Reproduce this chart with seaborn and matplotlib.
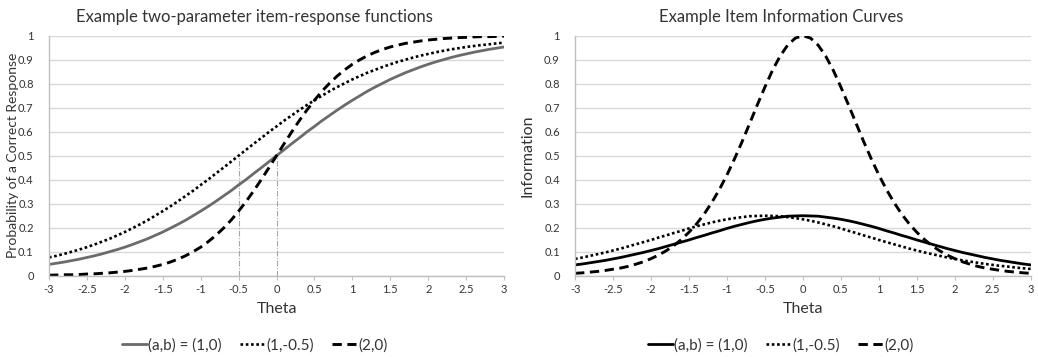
import matplotlib
matplotlib.use("Agg")
import matplotlib.pyplot as plt
import seaborn as sns
import pandas as pd

theta = [-3.0, -2.9, -2.8, -2.7, -2.6, -2.5, -2.4, -2.3, -2.2, -2.1,
         -2.0, -1.9, -1.8, -1.7, -1.6, -1.5, -1.4, -1.3, -1.2, -1.1,
         -1.0, -0.9, -0.8, -0.7, -0.6, -0.5, -0.4, -0.3, -0.2, -0.1,
         0.0, 0.1, 0.2, 0.3, 0.4, 0.5, 0.6, 0.7, 0.8, 0.9,
         1.0, 1.1, 1.2, 1.3, 1.4, 1.5, 1.6, 1.7, 1.8, 1.9,
         2.0, 2.1, 2.2, 2.3, 2.4, 2.5, 2.6, 2.7, 2.8, 2.9, 3.0]

# Item response functions
p_1_0 = [0.047, 0.052, 0.057, 0.063, 0.069, 0.076, 0.083, 0.091, 0.100, 0.109,
         0.119, 0.130, 0.142, 0.154, 0.168, 0.182, 0.198, 0.214, 0.231, 0.250,
         0.269, 0.289, 0.310, 0.332, 0.354, 0.378, 0.401, 0.426, 0.450, 0.475,
         0.500, 0.525, 0.550, 0.574, 0.599, 0.622, 0.646, 0.668, 0.690, 0.711,
         0.731, 0.750, 0.769, 0.786, 0.802, 0.818, 0.832, 0.846, 0.858, 0.870,
         0.881, 0.891, 0.900, 0.909, 0.917, 0.924, 0.931, 0.937, 0.943, 0.948, 0.953]
p_1_m05 = [0.076, 0.083, 0.091, 0.100, 0.109, 0.119, 0.130, 0.142, 0.154, 0.168,
           0.182, 0.198, 0.214, 0.231, 0.250, 0.269, 0.289, 0.310, 0.332, 0.354,
           0.378, 0.401, 0.426, 0.450, 0.475, 0.500, 0.525, 0.550, 0.574, 0.599,
           0.622, 0.646, 0.668, 0.690, 0.711, 0.731, 0.750, 0.769, 0.786, 0.802,
           0.818, 0.832, 0.846, 0.858, 0.870, 0.881, 0.891, 0.900, 0.909, 0.917,
           0.924, 0.931, 0.937, 0.943, 0.948, 0.953, 0.957, 0.961, 0.964, 0.968, 0.971]
p_2_0 = [0.002, 0.003, 0.004, 0.004, 0.005, 0.007, 0.008, 0.010, 0.012, 0.015,
         0.018, 0.022, 0.027, 0.032, 0.039, 0.047, 0.057, 0.069, 0.083, 0.100,
         0.119, 0.142, 0.168, 0.198, 0.231, 0.269, 0.310, 0.354, 0.401, 0.450,
         0.500, 0.550, 0.599, 0.646, 0.690, 0.731, 0.769, 0.802, 0.832, 0.858,
         0.881, 0.900, 0.917, 0.931, 0.943, 0.953, 0.961, 0.968, 0.973, 0.978,
         0.982, 0.985, 0.988, 0.990, 0.992, 0.993, 0.995, 0.996, 0.996, 0.997, 0.998]

# Item information curves
i_1_0 = [0.045, 0.049, 0.054, 0.059, 0.064, 0.070, 0.076, 0.083, 0.090, 0.097,
         0.105, 0.113, 0.122, 0.131, 0.140, 0.149, 0.159, 0.168, 0.178, 0.187,
         0.197, 0.206, 0.214, 0.222, 0.229, 0.235, 0.240, 0.244, 0.248, 0.249,
         0.250, 0.249, 0.248, 0.244, 0.240, 0.235, 0.229, 0.222, 0.214, 0.206,
         0.197, 0.187, 0.178, 0.168, 0.159, 0.149, 0.140, 0.131, 0.122, 0.113,
         0.105, 0.097, 0.090, 0.083, 0.076, 0.070, 0.064, 0.059, 0.054, 0.049, 0.045]
i_1_m05 = [0.070, 0.076, 0.083, 0.090, 0.097, 0.105, 0.113, 0.122, 0.131, 0.140,
           0.149, 0.159, 0.168, 0.178, 0.187, 0.197, 0.206, 0.214, 0.222, 0.229,
           0.235, 0.240, 0.244, 0.248, 0.249, 0.250, 0.249, 0.248, 0.244, 0.240,
           0.235, 0.229, 0.222, 0.214, 0.206, 0.197, 0.187, 0.178, 0.168, 0.159,
           0.149, 0.140, 0.131, 0.122, 0.113, 0.105, 0.097, 0.090, 0.083, 0.076,
           0.070, 0.064, 0.059, 0.054, 0.049, 0.045, 0.041, 0.038, 0.034, 0.031, 0.028]
i_2_0 = [0.010, 0.012, 0.015, 0.018, 0.022, 0.027, 0.032, 0.039, 0.048, 0.058,
         0.071, 0.086, 0.104, 0.125, 0.151, 0.181, 0.216, 0.257, 0.305, 0.359,
         0.420, 0.487, 0.559, 0.635, 0.712, 0.786, 0.856, 0.915, 0.961, 0.990,
         1.000, 0.990, 0.961, 0.915, 0.856, 0.786, 0.712, 0.635, 0.559, 0.487,
         0.420, 0.359, 0.305, 0.257, 0.216, 0.181, 0.151, 0.125, 0.104, 0.086,
         0.071, 0.058, 0.048, 0.039, 0.032, 0.027, 0.022, 0.018, 0.015, 0.012, 0.010]

series_labels = ["(a,b) = (1,0)", "(1,-0.5)", "(2,0)"]
ref_theta = [-0.5, 0.0]
ref_prob = [0.5, 0.5]

x_ticks = [-3, -2.5, -2, -1.5, -1, -0.5, 0, 0.5, 1, 1.5, 2, 2.5, 3]
x_tick_labels = ["-3", "-2.5", "-2", "-1.5", "-1", "-0.5", "0", "0.5", "1", "1.5", "2", "2.5", "3"]
y_ticks = [0, 0.1, 0.2, 0.3, 0.4, 0.5, 0.6, 0.7, 0.8, 0.9, 1]
y_tick_labels = ["0", "0.1", "0.2", "0.3", "0.4", "0.5", "0.6", "0.7", "0.8", "0.9", "1"]

sns.set_theme(style="white")
plt.rcParams["font.family"] = ["Lato", "DejaVu Sans"]

TEXT = "#333333"
fig = plt.figure(figsize=(10.38, 3.57), dpi=100)
ax1 = fig.add_axes([0.0472, 0.2277, 0.4384, 0.6723])
ax2 = fig.add_axes([0.5540, 0.2277, 0.4390, 0.6723])

styles = [
    dict(linestyle="-", linewidth=2.0),
    dict(linestyle=(0, (1.0, 1.0)), linewidth=1.9),
    dict(linestyle=(0, (3.2, 1.9)), linewidth=2.1),
]

def draw(ax, ys, first_color):
    colors = [first_color, "black", "black"]
    handles = []
    for y, lab, st, c in zip(ys, series_labels, styles, colors):
        df = pd.DataFrame({"theta": theta, "val": y})
        sns.lineplot(data=df, x="theta", y="val", ax=ax, color=c, label=lab,
                     legend=False, **st)
        handles.append(ax.lines[-1])
    return handles

# Left panel
for xr, yr in zip(ref_theta, ref_prob):
    ax1.plot([xr, xr], [0, yr], color="#a6a6a6", linewidth=0.8,
             linestyle=(0, (5, 1.5, 1, 1.5)), zorder=1)
h1 = draw(ax1, [p_1_0, p_1_m05, p_2_0], "#6b6b6b")
# Right panel
h2 = draw(ax2, [i_1_0, i_1_m05, i_2_0], "black")

for ax, title, ylab, ylab_size, ylab_x, h in [
        (ax1, "Example two-parameter item-response functions",
         "Probability of a Correct Response", 10.0, -0.079, h1),
        (ax2, "Example Item Information Curves", "Information", 11.5, -0.105, h2)]:
    ax.set_xlim(-3, 3)
    ax.set_ylim(0, 1)
    ax.set_xticks(x_ticks)
    ax.set_xticklabels(x_tick_labels)
    ax.set_yticks(y_ticks)
    ax.set_yticklabels(y_tick_labels)
    ax.grid(axis="y", color="#d9d9d9", linewidth=1.0)
    ax.grid(axis="x", visible=False)
    ax.set_axisbelow(True)
    for s in ["top", "right"]:
        ax.spines[s].set_visible(False)
    for s in ["left", "bottom"]:
        ax.spines[s].set_color("#bfbfbf")
        ax.spines[s].set_linewidth(1.0)
    ax.tick_params(axis="x", bottom=True, length=3, width=0.8, color="#bfbfbf",
                   labelsize=8, labelcolor=TEXT, pad=3)
    ax.tick_params(axis="y", left=False, labelsize=8, labelcolor=TEXT, pad=5)
    ax.set_title(title, fontsize=12, color=TEXT, pad=10, x=0.452)
    ax.set_xlabel("Theta", fontsize=11.5, color=TEXT, labelpad=5)
    ax.set_ylabel(ylab, fontsize=ylab_size, color=TEXT)
    ax.yaxis.set_label_coords(ylab_x, 0.5)
    ax.yaxis.label.set_verticalalignment("center")
    ax.legend(handles=h, labels=series_labels, loc="center",
              bbox_to_anchor=(0.452, -0.29), ncol=3, frameon=False, fontsize=11,
              handlelength=1.6, handletextpad=0.1, columnspacing=1.2,
              labelcolor=TEXT)

fig.savefig("out.png", dpi=100)
